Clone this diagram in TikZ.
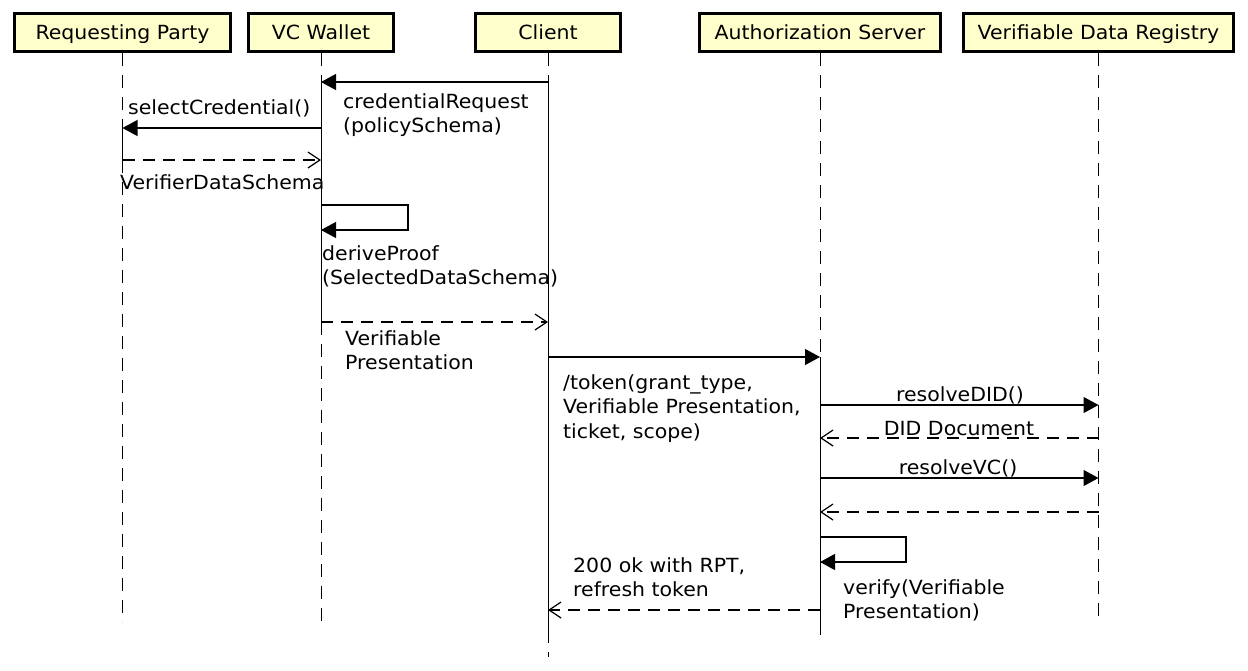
\documentclass[tikz,border=0pt]{standalone}
\usepackage{fontspec}
\setmainfont{DejaVu Sans}[FakeStretch=1.05]
\usetikzlibrary{arrows.meta}
\definecolor{headfill}{RGB}{255,255,204}
\begin{document}
\begin{tikzpicture}[x=1pt,y=-1pt,
  every node/.style={font=\fontsize{19.5}{24.5}\selectfont, inner sep=0pt},
  head/.style={draw=black, line width=3.4pt, fill=headfill, minimum height=37.6pt, inner sep=0pt, text height=16pt, text depth=2pt},
  life/.style={line width=1pt, dash pattern=on 13pt off 9pt},
  act/.style={line width=1pt},
  msg/.style={line width=1.2pt, -{Triangle[length=15pt,width=16pt]}},
  ret/.style={line width=1.2pt, dash pattern=on 12pt off 8pt, -{Straight Barb[length=12pt,width=16pt,line width=1.2pt]}},
  lbl/.style={anchor=north west, align=left},
  clbl/.style={anchor=base}]
\useasboundingbox (0,0) rectangle (1248,670);
\fill[white] (0,0) rectangle (1248,670);
% heads
\node[head, minimum width=215.6pt] (rp) at (122.5,32.5) {Requesting Party};
\node[head, minimum width=144.6pt] (vc) at (321,32.5) {VC Wallet};
\node[head, minimum width=144.6pt] (cl) at (548,32.5) {Client};
\node[head, minimum width=240.6pt] (as) at (820,32.5) {Authorization Server};
\node[head, minimum width=269.6pt] (vdr) at (1098.5,32.5) {Verifiable Data Registry};
% lifeline coordinates
\coordinate (rpA) at (rp |- 0,128);
\coordinate (rpB) at (rp |- 0,160);
\coordinate (rpE) at (rp |- 0,622);
\coordinate (vcA) at (vc |- 0,82);
\coordinate (vcB) at (vc |- 0,322);
\coordinate (vc128) at (vc |- 0,128);
\coordinate (vc160) at (vc |- 0,160);
\coordinate (vc205) at (vc |- 0,205);
\coordinate (vc230) at (vc |- 0,230);
\coordinate (vcE) at (vc |- 0,622);
\coordinate (clA) at (cl |- 0,82);
\coordinate (cl322) at (cl |- 0,322);
\coordinate (cl357) at (cl |- 0,357);
\coordinate (cl610) at (cl |- 0,610);
\coordinate (clB) at (cl |- 0,630);
\coordinate (clE) at (cl |- 0,657);
\coordinate (asA) at (as |- 0,357);
\coordinate (as405) at (as |- 0,405);
\coordinate (as438) at (as |- 0,438);
\coordinate (as478) at (as |- 0,478);
\coordinate (as512) at (as |- 0,512);
\coordinate (as537) at (as |- 0,537);
\coordinate (as562) at (as |- 0,562);
\coordinate (as610) at (as |- 0,610);
\coordinate (asB) at (as |- 0,622);
\coordinate (asE) at (as |- 0,642);
\coordinate (vdr405) at (vdr |- 0,405);
\coordinate (vdr438) at (vdr |- 0,438);
\coordinate (vdr478) at (vdr |- 0,478);
\coordinate (vdr512) at (vdr |- 0,512);
\coordinate (vdrE) at (vdr |- 0,622);
% lifelines
\draw[life] (rp.south) -- (rpA);
\draw[act] (rpA) -- (rpB);
\draw[life] (rpB) -- (rpE);
\draw[life] (vc.south) -- (vcA);
\draw[act] (vcA) -- (vcB);
\draw[life] (vcB) -- (vcE);
\draw[life] (cl.south) -- (clA);
\draw[act] (clA) -- (clB);
\draw[life] (clB) -- (clE);
\draw[life] (as.south) -- (asA);
\draw[act] (asA) -- (asB);
\draw[life] (asB) -- (asE);
\draw[life] (vdr.south) -- (vdrE);
% messages
\draw[msg] (clA) -- (vcA);
\node[lbl] (l1) at (343,93) {credentialRequest\\(policySchema)};
\draw[msg] (vc128) -- (rpA);
\node[lbl] (l2) at (128,99) {selectCredential()};
\draw[ret] (rpB) -- (vc160);
\node[lbl] (l3) at (120,174) {VerifierDataSchema};
\draw[msg] (vc205) -- ++(87,0) |- (vc230);
\node[lbl] (l4) at (322,245) {deriveProof\\(SelectedDataSchema)};
\draw[ret] (vcB) -- (cl322);
\node[lbl] (l5) at (345,330) {Verifiable\\Presentation};
\draw[msg] (cl357) -- (asA);
\node[lbl] (l6) at (563,374) {/token(grant\_type,\\Verifiable Presentation,\\ticket, scope)};
\draw[msg] (as405) -- (vdr405);
\node[clbl] (l7) at (960,401) {resolveDID()};
\draw[ret] (vdr438) -- (as438);
\node[clbl] (l8) at (959,435) {DID Document};
\draw[msg] (as478) -- (vdr478);
\node[clbl] (l9) at (958,474) {resolveVC()};
\draw[ret] (vdr512) -- (as512);
\draw[msg] (as537) -- ++(86,0) |- (as562);
\node[lbl] (l10) at (843,579) {verify(Verifiable\\Presentation)};
\draw[ret] (as610) -- (cl610);
\node[lbl] (l11) at (573,557) {200 ok with RPT,\\refresh token};
\end{tikzpicture}
\end{document}
